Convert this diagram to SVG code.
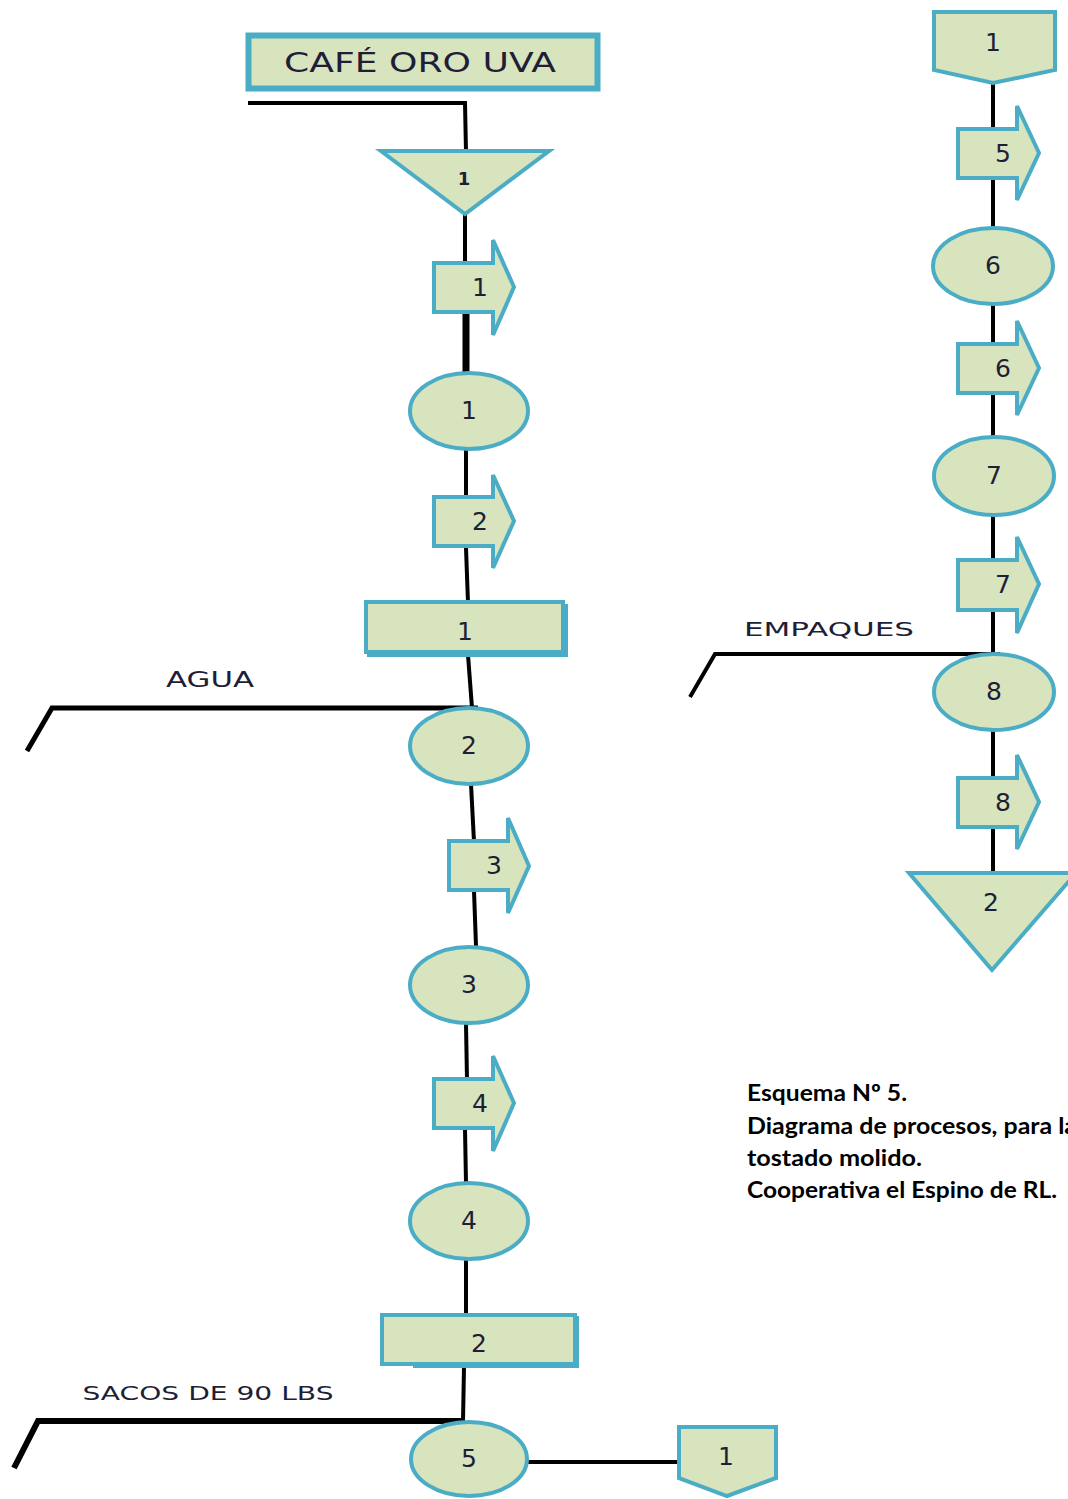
<svg xmlns="http://www.w3.org/2000/svg" width="1068" height="1499" viewBox="0 0 1068 1499">
  <style>
    .shape { fill: #d7e4bd; stroke: #4bacc6; stroke-width: 4; stroke-linejoin: miter; }
    .shadow { fill: #4bacc6; }
    .line { fill: none; stroke: #000; stroke-width: 4; stroke-linecap: butt; }
    .num { font-family: "DejaVu Sans", "Liberation Sans", sans-serif; font-size: 25px; fill: #1e1e36; text-anchor: middle; dominant-baseline: central; }
    .lbl { font-family: "DejaVu Sans", "Liberation Sans", sans-serif; fill: #1e1e36; text-anchor: middle; }
    .cap { font-family: Lato, "Open Sans", sans-serif; font-weight: bold; font-size: 23px; fill: #000; }
  </style>
  <rect width="1068" height="1499" fill="#fff"/>

  <!-- connectors -->
  <g id="connectors">
    <!-- left column -->
    <polyline class="line" points="248,103 465,103 466,152"/>
    <line class="line" x1="465" y1="214" x2="465" y2="264"/>
    <line class="line" x1="466" y1="312" x2="466" y2="373" style="stroke-width:7"/>
    <line class="line" x1="466" y1="449" x2="466" y2="498"/>
    <line class="line" x1="466" y1="548" x2="468" y2="603"/>
    <line class="line" x1="468" y1="655" x2="472" y2="708"/>
    <polyline class="line" points="27,751 52,708 478,708" style="stroke-width:5"/>
    <line class="line" x1="471" y1="784" x2="474" y2="842"/>
    <line class="line" x1="474" y1="891" x2="476" y2="946"/>
    <line class="line" x1="466" y1="1024" x2="467" y2="1080"/>
    <line class="line" x1="465" y1="1129" x2="466" y2="1183"/>
    <line class="line" x1="466" y1="1260" x2="466" y2="1316"/>
    <line class="line" x1="464" y1="1367" x2="463" y2="1421"/>
    <polyline class="line" points="14,1468 38,1421 463,1421" style="stroke-width:6"/>
    <line class="line" x1="527" y1="1462" x2="679" y2="1462"/>
    <!-- right column -->
    <line class="line" x1="993" y1="82" x2="993" y2="130"/>
    <line class="line" x1="993" y1="180" x2="993" y2="228"/>
    <line class="line" x1="993" y1="304" x2="993" y2="345"/>
    <line class="line" x1="993" y1="395" x2="993" y2="437"/>
    <line class="line" x1="993" y1="516" x2="993" y2="561"/>
    <line class="line" x1="993" y1="612" x2="993" y2="654"/>
    <polyline class="line" points="690,697 715,654 1000,654"/>
    <line class="line" x1="993" y1="731" x2="993" y2="779"/>
    <line class="line" x1="993" y1="828" x2="993" y2="873"/>
  </g>

  <!-- left column nodes -->
  <g id="cafe-oro-uva">
    <rect class="shape" x="248.5" y="35.5" width="349" height="53" style="stroke-width:6"/>
    <text class="lbl" x="420" y="72" font-size="26" textLength="272" lengthAdjust="spacingAndGlyphs">CAFÉ ORO UVA</text>
  </g>

  <g id="storage-1">
    <polygon class="shape" points="381,151 549,151 465,214"/>
    <text class="num" x="464" y="178" style="font-size:18px;font-weight:bold">1</text>
  </g>

  <g id="transport-1">
    <polygon class="shape" points="434,263 493,263 493,240 514,287 493,335 493,312 434,312"/>
    <text class="num" x="480" y="287">1</text>
  </g>

  <g id="operation-1">
    <ellipse class="shape" cx="469" cy="411" rx="59" ry="38"/>
    <text class="num" x="469" y="410">1</text>
  </g>

  <g id="transport-2">
    <polygon class="shape" points="434,497 493,497 493,475 514,521 493,568 493,546 434,546"/>
    <text class="num" x="480" y="521">2</text>
  </g>

  <g id="inspection-1">
    <rect class="shadow" x="367" y="604" width="201" height="53"/>
    <rect class="shape" x="366" y="602" width="197" height="50"/>
    <text class="num" x="465" y="631">1</text>
  </g>

  <g id="agua-label">
    <text class="lbl" x="210" y="687" font-size="21" textLength="88" lengthAdjust="spacingAndGlyphs">AGUA</text>
  </g>

  <g id="operation-2">
    <ellipse class="shape" cx="469" cy="746" rx="59" ry="38"/>
    <text class="num" x="469" y="745">2</text>
  </g>

  <g id="transport-3">
    <polygon class="shape" points="449,841 508,841 508,818 529,866 508,913 508,890 449,890"/>
    <text class="num" x="494" y="865">3</text>
  </g>

  <g id="operation-3">
    <ellipse class="shape" cx="469" cy="985" rx="59" ry="38"/>
    <text class="num" x="469" y="984">3</text>
  </g>

  <g id="transport-4">
    <polygon class="shape" points="434,1079 493,1079 493,1056 514,1103 493,1151 493,1128 434,1128"/>
    <text class="num" x="480" y="1103">4</text>
  </g>

  <g id="operation-4">
    <ellipse class="shape" cx="469" cy="1221" rx="59" ry="38"/>
    <text class="num" x="469" y="1220">4</text>
  </g>

  <g id="inspection-2">
    <rect class="shadow" x="413" y="1316" width="166" height="52"/>
    <rect class="shape" x="382" y="1315" width="193" height="49"/>
    <text class="num" x="479" y="1343">2</text>
  </g>

  <g id="sacos-label">
    <text class="lbl" x="208" y="1400" font-size="20" textLength="251" lengthAdjust="spacingAndGlyphs">SACOS DE 90 LBS</text>
  </g>

  <g id="operation-5">
    <ellipse class="shape" cx="469" cy="1459" rx="58" ry="37"/>
    <text class="num" x="469" y="1458">5</text>
  </g>

  <g id="connector-out-1">
    <polygon class="shape" points="679,1427 776,1427 776,1478 727,1496 679,1478"/>
    <text class="num" x="726" y="1456">1</text>
  </g>

  <!-- right column nodes -->
  <g id="connector-in-1">
    <polygon class="shape" points="934,12 1055,12 1055,70 993,83 934,70"/>
    <text class="num" x="993" y="42">1</text>
  </g>

  <g id="transport-5">
    <polygon class="shape" points="958,129 1017,129 1017,106 1039,153 1017,200 1017,178 958,178"/>
    <text class="num" x="1003" y="153">5</text>
  </g>

  <g id="operation-6">
    <ellipse class="shape" cx="993" cy="266" rx="60" ry="38"/>
    <text class="num" x="993" y="265">6</text>
  </g>

  <g id="transport-6">
    <polygon class="shape" points="958,344 1017,344 1017,321 1039,368 1017,415 1017,393 958,393"/>
    <text class="num" x="1003" y="368">6</text>
  </g>

  <g id="operation-7">
    <ellipse class="shape" cx="994" cy="476" rx="60" ry="39"/>
    <text class="num" x="994" y="475">7</text>
  </g>

  <g id="transport-7">
    <polygon class="shape" points="958,560 1017,560 1017,537 1039,584 1017,633 1017,610 958,610"/>
    <text class="num" x="1003" y="584">7</text>
  </g>

  <g id="empaques-label">
    <text class="lbl" x="829" y="636" font-size="20" textLength="170" lengthAdjust="spacingAndGlyphs">EMPAQUES</text>
  </g>

  <g id="operation-8">
    <ellipse class="shape" cx="994" cy="692" rx="60" ry="38"/>
    <text class="num" x="994" y="691">8</text>
  </g>

  <g id="transport-8">
    <polygon class="shape" points="958,778 1017,778 1017,755 1039,802 1017,849 1017,827 958,827"/>
    <text class="num" x="1003" y="802">8</text>
  </g>

  <g id="storage-2">
    <polygon class="shape" points="909,873 1076,873 992,970"/>
    <text class="num" x="991" y="902">2</text>
  </g>

  <!-- caption -->
  <g id="caption">
    <text class="cap" x="747" y="1101" textLength="160" lengthAdjust="spacingAndGlyphs">Esquema Nº 5.</text>
    <text class="cap" x="747" y="1134" textLength="330" lengthAdjust="spacingAndGlyphs">Diagrama de procesos, para la</text>
    <text class="cap" x="747" y="1166" textLength="175" lengthAdjust="spacingAndGlyphs">tostado molido.</text>
    <text class="cap" x="747" y="1198" textLength="310" lengthAdjust="spacingAndGlyphs">Cooperativa el Espino de RL.</text>
  </g>
</svg>
